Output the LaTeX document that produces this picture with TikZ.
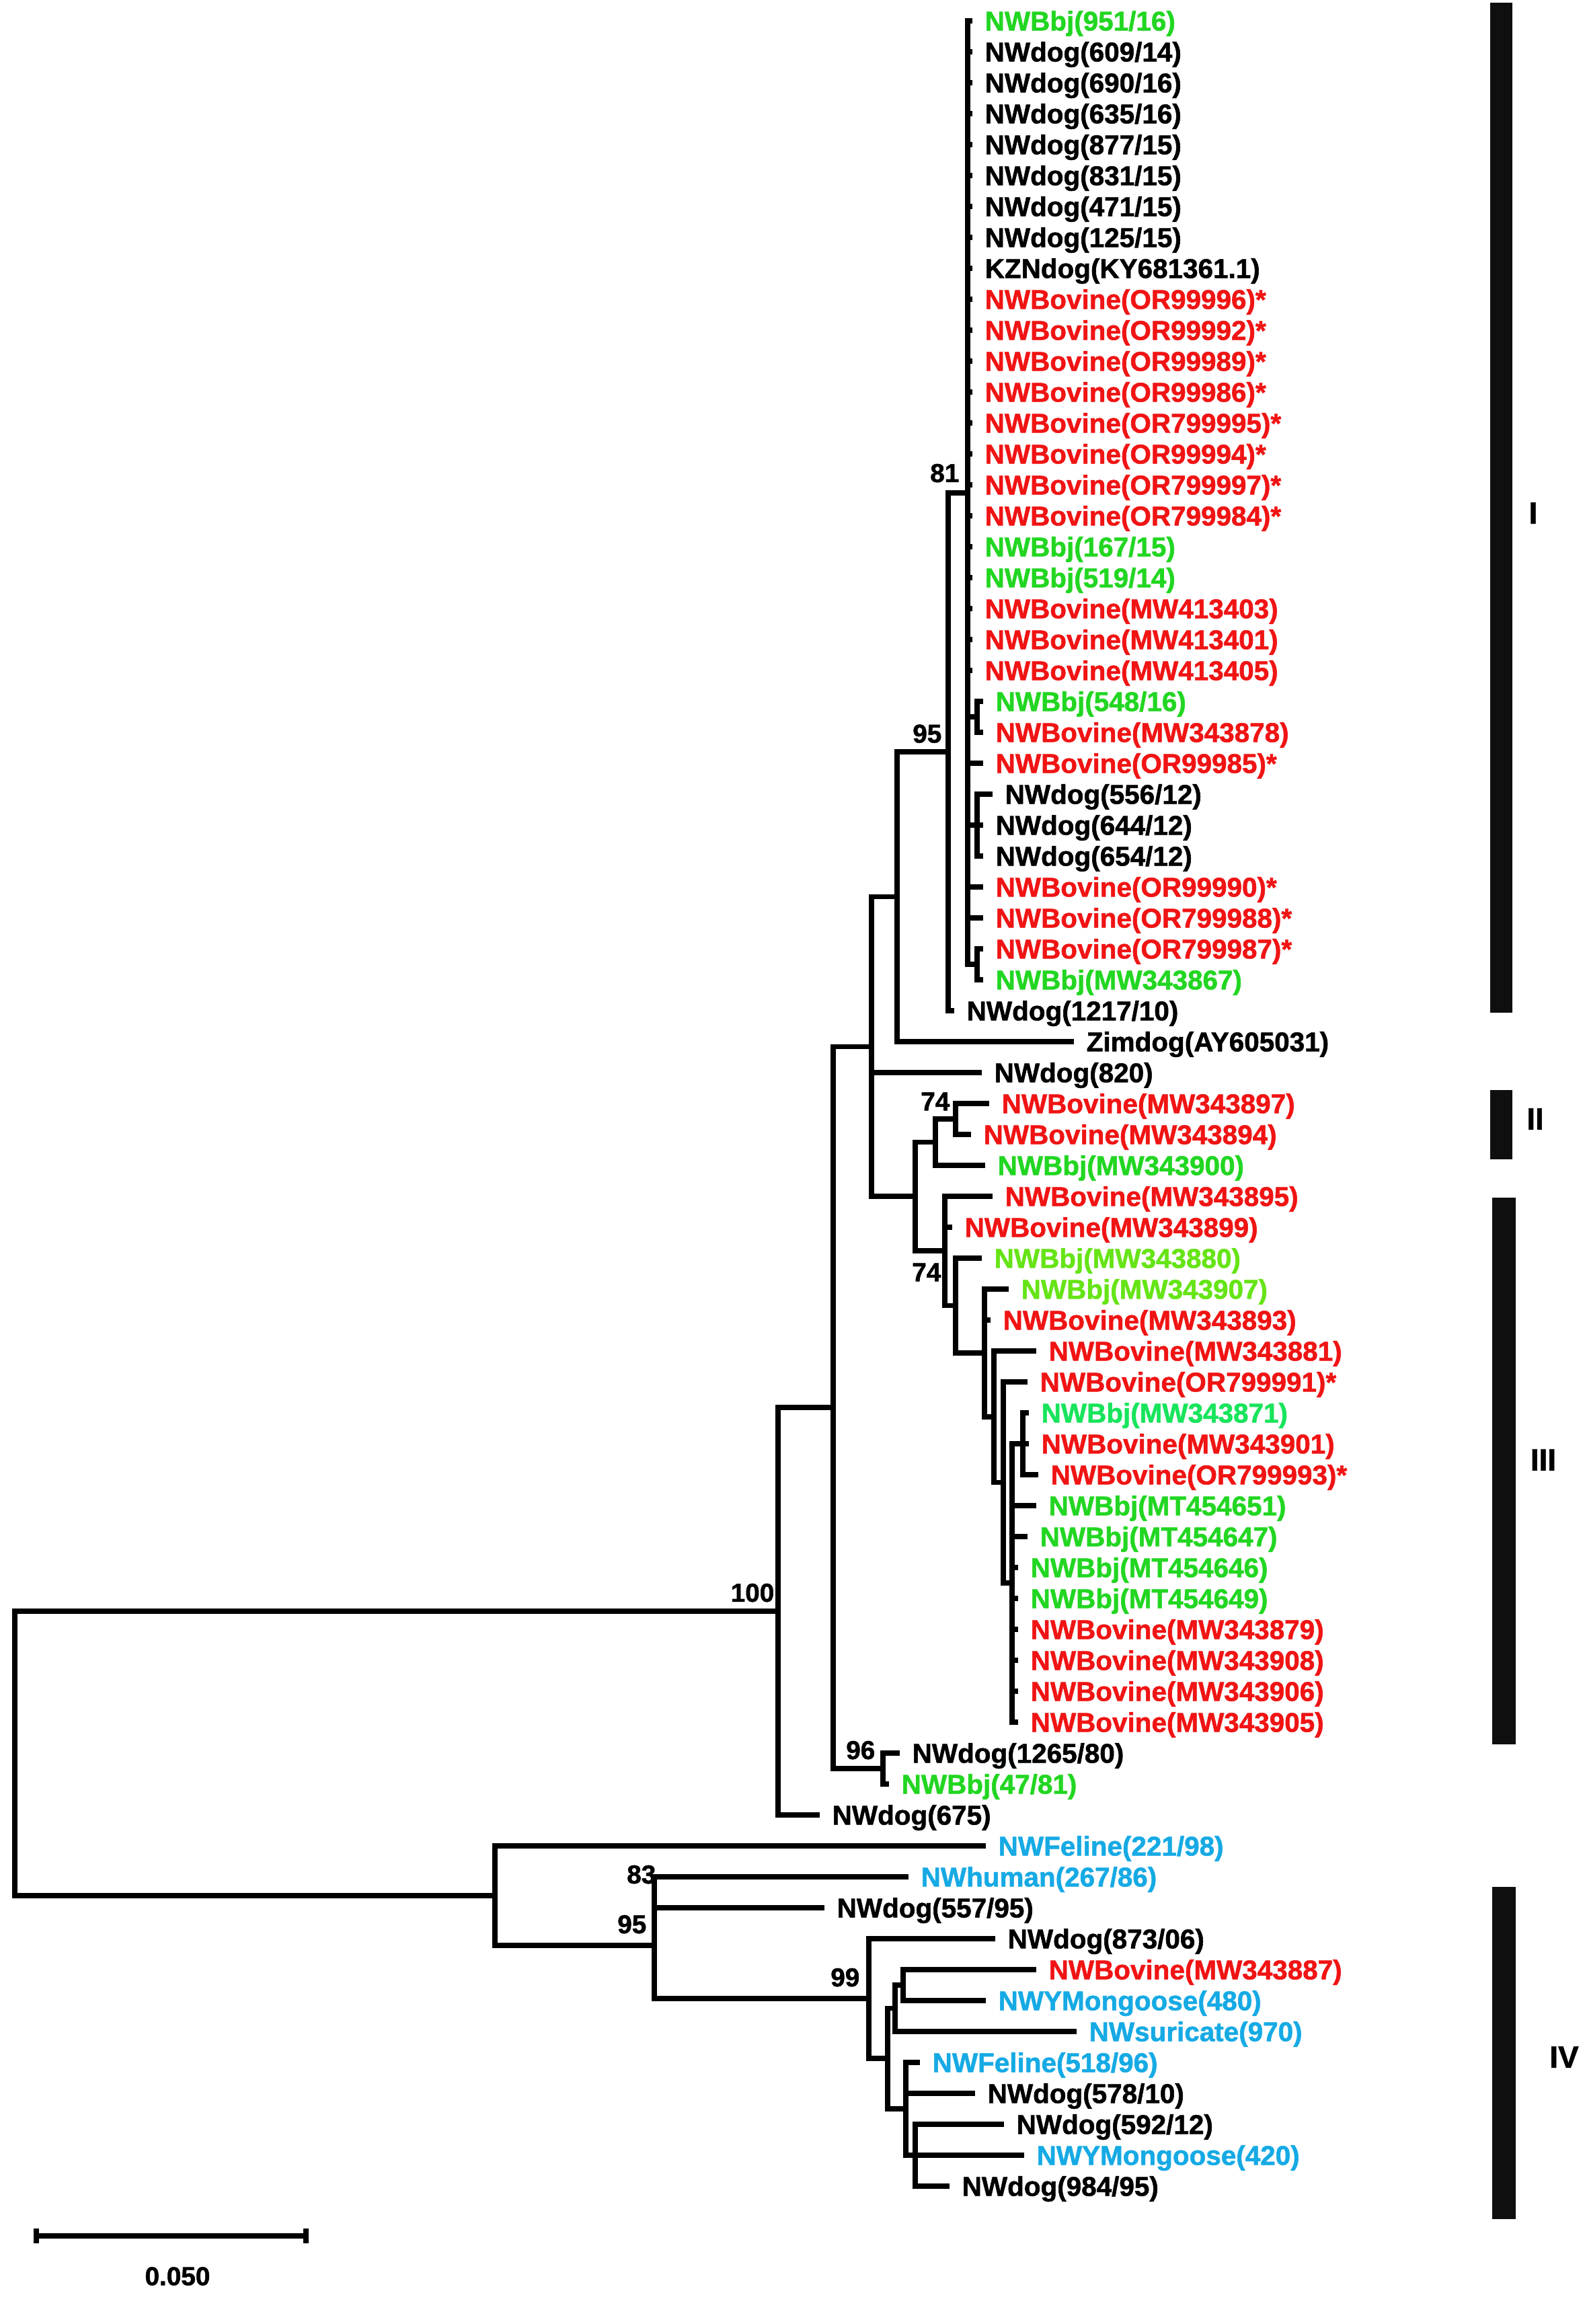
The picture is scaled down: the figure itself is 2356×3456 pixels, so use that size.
\documentclass[tikz,border=0pt]{standalone}
\usepackage{fontspec}
\setmainfont{Liberation Sans}[BoldFeatures={FakeBold=1.4}]
\usepackage{tikz}
\usetikzlibrary{calc}

\definecolor{bovred}{RGB}{240,20,20}
\definecolor{bjgreen}{RGB}{34,214,34}
\definecolor{bjlime}{RGB}{102,228,22}
\definecolor{bjteal}{RGB}{24,228,92}
\definecolor{catblue}{RGB}{22,170,228}

\newcommand{\labfont}{\bfseries\fontsize{11.5}{12}\selectfont}
\newcommand{\bootfont}{\bfseries\fontsize{11}{12}\selectfont}

\tikzset{
  branch/.style={line width=2.2pt, line cap=rect, line join=miter},
  leaf/.style={anchor=west, inner xsep=0.22cm, inner ysep=0pt,
    text height=8.2pt, text depth=0pt, font=\labfont, text=#1},
  leaf/.default=black,
  boot/.style={anchor=south east, inner sep=0pt, font=\bootfont},
  cladebar/.style={fill=black!94, draw=none},
  cladename/.style={inner sep=0pt, font=\bfseries\fontsize{13}{14}\selectfont}
}

\begin{document}
\begin{tikzpicture}[x=0.01cm, y=-0.01cm]
  \useasboundingbox (0,0) rectangle (2356,3456);

  % Internal nodes of the tree
  \coordinate (root) at (22,2607.5);
  \coordinate (n100) at (1157,2396);
  \coordinate (nAA)  at (1239,2093);
  \coordinate (nA)   at (1296,1556.5);
  \coordinate (n95)  at (1334,1333.5);
  \coordinate (n81)  at (1410,1118);
  \coordinate (cI)   at (1439,733);
  \coordinate (c23)  at (1453,1066);
  \coordinate (c26)  at (1453,1227);
  \coordinate (c31)  at (1453,1434);
  \coordinate (nB)   at (1361,1779);
  \coordinate (nC)   at (1391,1698.5);
  \coordinate (n74a) at (1421,1664);
  \coordinate (nD)   at (1405,1860);
  \coordinate (nE)   at (1421,1941.5);
  \coordinate (nF)   at (1464,2012);
  \coordinate (nG)   at (1478,2107);
  \coordinate (nH)   at (1492,2204.5);
  \coordinate (nJ)   at (1505,2354);
  \coordinate (nK)   at (1521,2147);
  \coordinate (n96)  at (1313,2630);
  \coordinate (nIV)  at (736,2819);
  \coordinate (n95b) at (973,2893);
  \coordinate (n83)  at (973,2814);
  \coordinate (n99)  at (1292,2972);
  \coordinate (nX)   at (1320,3061);
  \coordinate (nY)   at (1331,2986.5);
  \coordinate (nW)   at (1343,2952);
  \coordinate (nZ)   at (1347,3136);
  \coordinate (nV)   at (1361,3205);

  % Clade I
  \node[leaf=bjgreen] (L1)  at (1442,31)  {NWBbj(951/16)};
  \node[leaf]         (L2)  at (1442,77)  {NWdog(609/14)};
  \node[leaf]         (L3)  at (1442,123) {NWdog(690/16)};
  \node[leaf]         (L4)  at (1442,169) {NWdog(635/16)};
  \node[leaf]         (L5)  at (1442,215) {NWdog(877/15)};
  \node[leaf]         (L6)  at (1442,261) {NWdog(831/15)};
  \node[leaf]         (L7)  at (1442,307) {NWdog(471/15)};
  \node[leaf]         (L8)  at (1442,353) {NWdog(125/15)};
  \node[leaf]         (L9)  at (1442,399) {KZNdog(KY681361.1)};
  \node[leaf=bovred]  (L10) at (1442,445) {NWBovine(OR99996)*};
  \node[leaf=bovred]  (L11) at (1442,491) {NWBovine(OR99992)*};
  \node[leaf=bovred]  (L12) at (1442,537) {NWBovine(OR99989)*};
  \node[leaf=bovred]  (L13) at (1442,583) {NWBovine(OR99986)*};
  \node[leaf=bovred]  (L14) at (1442,629) {NWBovine(OR799995)*};
  \node[leaf=bovred]  (L15) at (1442,675) {NWBovine(OR99994)*};
  \node[leaf=bovred]  (L16) at (1442,721) {NWBovine(OR799997)*};
  \node[leaf=bovred]  (L17) at (1442,767) {NWBovine(OR799984)*};
  \node[leaf=bjgreen] (L18) at (1442,813) {NWBbj(167/15)};
  \node[leaf=bjgreen] (L19) at (1442,859) {NWBbj(519/14)};
  \node[leaf=bovred]  (L20) at (1442,905) {NWBovine(MW413403)};
  \node[leaf=bovred]  (L21) at (1442,951) {NWBovine(MW413401)};
  \node[leaf=bovred]  (L22) at (1442,997) {NWBovine(MW413405)};
  \node[leaf=bjgreen] (L23) at (1458,1043) {NWBbj(548/16)};
  \node[leaf=bovred]  (L24) at (1458,1089) {NWBovine(MW343878)};
  \node[leaf=bovred]  (L25) at (1458,1135) {NWBovine(OR99985)*};
  \node[leaf]         (L26) at (1472,1181) {NWdog(556/12)};
  \node[leaf]         (L27) at (1458,1227) {NWdog(644/12)};
  \node[leaf]         (L28) at (1458,1273) {NWdog(654/12)};
  \node[leaf=bovred]  (L29) at (1458,1319) {NWBovine(OR99990)*};
  \node[leaf=bovred]  (L30) at (1458,1365) {NWBovine(OR799988)*};
  \node[leaf=bovred]  (L31) at (1458,1411) {NWBovine(OR799987)*};
  \node[leaf=bjgreen] (L32) at (1458,1457) {NWBbj(MW343867)};
  \node[leaf]         (L33) at (1415,1503) {NWdog(1217/10)};
  \node[leaf]         (L34) at (1593,1549) {Zimdog(AY605031)};
  \node[leaf]         (L35) at (1456,1595) {NWdog(820)};

  % Clades II and III
  \node[leaf=bovred]  (L36) at (1467,1641) {NWBovine(MW343897)};
  \node[leaf=bovred]  (L37) at (1440,1687) {NWBovine(MW343894)};
  \node[leaf=bjgreen] (L38) at (1461,1733) {NWBbj(MW343900)};
  \node[leaf=bovred]  (L39) at (1472,1779) {NWBovine(MW343895)};
  \node[leaf=bovred]  (L40) at (1412,1825) {NWBovine(MW343899)};
  \node[leaf=bjlime]  (L41) at (1456,1871) {NWBbj(MW343880)};
  \node[leaf=bjlime]  (L42) at (1496,1917) {NWBbj(MW343907)};
  \node[leaf=bovred]  (L43) at (1469,1963) {NWBovine(MW343893)};
  \node[leaf=bovred]  (L44) at (1537,2009) {NWBovine(MW343881)};
  \node[leaf=bovred]  (L45) at (1524,2055) {NWBovine(OR799991)*};
  \node[leaf=bjteal]  (L46) at (1526,2101) {NWBbj(MW343871)};
  \node[leaf=bovred]  (L47) at (1526,2147) {NWBovine(MW343901)};
  \node[leaf=bovred]  (L48) at (1540,2193) {NWBovine(OR799993)*};
  \node[leaf=bjgreen] (L49) at (1537,2239) {NWBbj(MT454651)};
  \node[leaf=bjgreen] (L50) at (1524,2285) {NWBbj(MT454647)};
  \node[leaf=bjgreen] (L51) at (1510,2331) {NWBbj(MT454646)};
  \node[leaf=bjgreen] (L52) at (1510,2377) {NWBbj(MT454649)};
  \node[leaf=bovred]  (L53) at (1510,2423) {NWBovine(MW343879)};
  \node[leaf=bovred]  (L54) at (1510,2469) {NWBovine(MW343908)};
  \node[leaf=bovred]  (L55) at (1510,2515) {NWBovine(MW343906)};
  \node[leaf=bovred]  (L56) at (1510,2561) {NWBovine(MW343905)};
  \node[leaf]         (L57) at (1334,2607) {NWdog(1265/80)};
  \node[leaf=bjgreen] (L58) at (1318,2653) {NWBbj(47/81)};
  \node[leaf]         (L59) at (1215,2699) {NWdog(675)};

  % Clade IV
  \node[leaf=catblue] (L60) at (1462,2745) {NWFeline(221/98)};
  \node[leaf=catblue] (L61) at (1347,2791) {NWhuman(267/86)};
  \node[leaf]         (L62) at (1222,2837) {NWdog(557/95)};
  \node[leaf]         (L63) at (1476,2883) {NWdog(873/06)};
  \node[leaf=bovred]  (L64) at (1537,2929) {NWBovine(MW343887)};
  \node[leaf=catblue] (L65) at (1462,2975) {NWYMongoose(480)};
  \node[leaf=catblue] (L66) at (1597,3021) {NWsuricate(970)};
  \node[leaf=catblue] (L67) at (1364,3067) {NWFeline(518/96)};
  \node[leaf]         (L68) at (1446,3113) {NWdog(578/10)};
  \node[leaf]         (L69) at (1489,3159) {NWdog(592/12)};
  \node[leaf=catblue] (L70) at (1519,3205) {NWYMongoose(420)};
  \node[leaf]         (L71) at (1408,3251) {NWdog(984/95)};

  % Branches
  \draw[branch] (root) |- (n100)  (root) |- (nIV);
  \draw[branch] (n100) |- (nAA)  (n100) |- (L59.west);
  \draw[branch] (nAA) |- (nA)  (nAA) |- (n96);
  \draw[branch] (n96) |- (L57.west)  (n96) |- (L58.west);
  \draw[branch] (nA) |- (n95)  (nA) |- (L35.west)  (nA) |- (nB);
  \draw[branch] (n95) |- (n81)  (n95) |- (L34.west);
  \draw[branch] (n81) |- (cI)  (n81) |- (L33.west);
  \draw[branch] (cI) |- (L1.west)  (cI) |- (L2.west)  (cI) |- (L3.west)
    (cI) |- (L4.west)  (cI) |- (L5.west)  (cI) |- (L6.west)
    (cI) |- (L7.west)  (cI) |- (L8.west)  (cI) |- (L9.west)
    (cI) |- (L10.west)  (cI) |- (L11.west)  (cI) |- (L12.west)
    (cI) |- (L13.west)  (cI) |- (L14.west)  (cI) |- (L15.west)
    (cI) |- (L16.west)  (cI) |- (L17.west)  (cI) |- (L18.west)
    (cI) |- (L19.west)  (cI) |- (L20.west)  (cI) |- (L21.west)
    (cI) |- (L22.west)  (cI) |- (c23)  (cI) |- (L25.west)
    (cI) |- (c26)  (cI) |- (L29.west)  (cI) |- (L30.west)  (cI) |- (c31);
  \draw[branch] (c23) |- (L23.west)  (c23) |- (L24.west);
  \draw[branch] (c26) |- (L26.west)  (c26) |- (L27.west)  (c26) |- (L28.west);
  \draw[branch] (c31) |- (L31.west)  (c31) |- (L32.west);
  \draw[branch] (nB) |- (nC)  (nB) |- (nD);
  \draw[branch] (nC) |- (n74a)  (nC) |- (L38.west);
  \draw[branch] (n74a) |- (L36.west)  (n74a) |- (L37.west);
  \draw[branch] (nD) |- (L39.west)  (nD) |- (L40.west)  (nD) |- (nE);
  \draw[branch] (nE) |- (L41.west)  (nE) |- (nF);
  \draw[branch] (nF) |- (L42.west)  (nF) |- (L43.west)  (nF) |- (nG);
  \draw[branch] (nG) |- (L44.west)  (nG) |- (nH);
  \draw[branch] (nH) |- (L45.west)  (nH) |- (nJ);
  \draw[branch] (nJ) |- (nK)  (nJ) |- (L49.west)  (nJ) |- (L50.west)
    (nJ) |- (L51.west)  (nJ) |- (L52.west)  (nJ) |- (L53.west)
    (nJ) |- (L54.west)  (nJ) |- (L55.west)  (nJ) |- (L56.west);
  \draw[branch] (nK) |- (L46.west)  (nK) |- (L47.west)  (nK) |- (L48.west);
  \draw[branch] (nIV) |- (L60.west)  (nIV) |- (n95b);
  \draw[branch] (n95b) |- (n83)  (n95b) |- (n99);
  \draw[branch] (n83) |- (L61.west)  (n83) |- (L62.west);
  \draw[branch] (n99) |- (L63.west)  (n99) |- (nX);
  \draw[branch] (nX) |- (nY)  (nX) |- (nZ);
  \draw[branch] (nY) |- (nW)  (nY) |- (L66.west);
  \draw[branch] (nW) |- (L64.west)  (nW) |- (L65.west);
  \draw[branch] (nZ) |- (L67.west)  (nZ) |- (L68.west)  (nZ) |- (nV);
  \draw[branch] (nV) |- (L69.west)  (nV) |- (L70.west)  (nV) |- (L71.west);

  % Bootstrap values
  \node[boot] (b81)  at ([shift={(-12,-15)}]cI)    {81};
  \node[boot] (b95)  at ([shift={(-9,-12.5)}]n81)  {95};
  \node[boot] (b74a) at ([shift={(-8,-12)}]n74a)   {74};
  \node[boot] (b74b) at ([shift={(-21,-35.5)}]nE)  {74};
  \node[boot] (b96)  at ([shift={(-11,-13)}]n96)   {96};
  \node[boot] (b100) at ([shift={(-5,-13)}]n100)   {100};
  \node[boot] (b83)  at ([shift={(3,-12)}]n83)     {83};
  \node[boot] (b95b) at ([shift={(-11,-17)}]n95b)  {95};
  \node[boot] (b99)  at ([shift={(-13,-17)}]n99)   {99};

  % Clade bars
  \fill[cladebar] (2216,4) rectangle (2249,1506);
  \fill[cladebar] (2216,1621) rectangle (2249,1724);
  \fill[cladebar] (2219,1781) rectangle (2254,2594);
  \fill[cladebar] (2219,2806) rectangle (2254,3300);
  \node[cladename] (nameI)   at (2280,763)  {I};
  \node[cladename] (nameII)  at (2283,1664) {II};
  \node[cladename] (nameIII) at (2295,2171) {III};
  \node[cladename] (nameIV)  at (2326,3059) {IV};

  % Scale bar
  \coordinate (sb1) at (54,3325);
  \coordinate (sb2) at (455,3325);
  \draw[branch] (sb1) -- (sb2);
  \draw[line width=2.2pt] ($(sb1)+(0,-11)$) -- ($(sb1)+(0,11)$);
  \draw[line width=2.2pt] ($(sb2)+(0,-11)$) -- ($(sb2)+(0,11)$);
  \node[font=\bootfont] (sblab) at (264,3385) {0.050};
\end{tikzpicture}
\end{document}
